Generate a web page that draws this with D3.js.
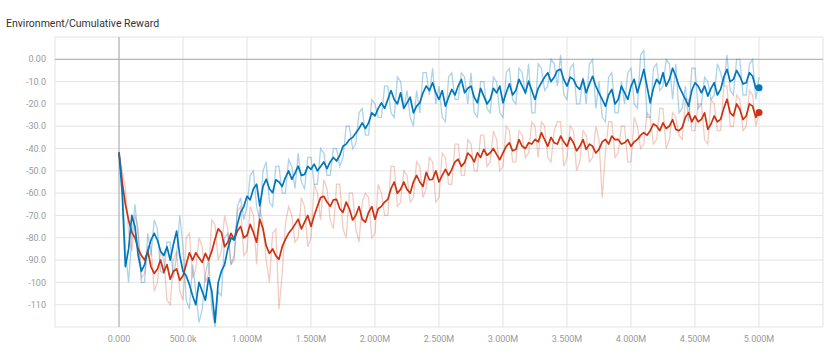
<!DOCTYPE html>
<html lang="en">
<head>
<meta charset="UTF-8">
<title>Environment/Cumulative Reward</title>
<script src="https://d3js.org/d3.v7.min.js"></script>
<style>
  body { margin: 0; background: #fff; font-family: Roboto, "Noto Sans", sans-serif; }
  .grid line { stroke: #e3e3e3; stroke-width: 1px; }
  .zero { stroke: #aaa; stroke-width: 1px; }
  .tick-label { font-size: 9px; fill: #9a9a9a; }
  .title { font-size: 10.5px; fill: #333; }
</style>
</head>
<body>
<div id="chart"></div>
<script>
// values every 50k steps, plus a second array for the half steps in between
const step = 50000;
const xTicks = [0, 500000, 1000000, 1500000, 2000000, 2500000, 3000000, 3500000, 4000000, 4500000, 5000000];
const yTicks = [0, -10, -20, -30, -40, -50, -60, -70, -80, -90, -100, -110];

// smoothed (dark) lines
const blueSmooth = [-41.7, -93, -70, -88, -92, -81, -81, -88, -90, -77, -95, -101, -110, -104, -98, -118, -95, -85, -81, -68.6,
  -61.4, -58, -65.7, -53.8, -59.8, -55, -53, -53.8, -47.9, -51.6, -49.3, -50, -46, -46, -45.6, -39, -36, -33, -28.5, -28.5,
  -25.4, -19.5, -18, -18, -15, -19.5, -24, -19.5, -12, -10.5, -18, -21, -13.5, -12, -15, -12, -19.5, -16.5, -18, -15,
  -19.5, -11, -14, -12, -9.8, -18, -10.5, -6, -8, -4.5, -12, -9, -13.5, -15, -7.6, -15, -21, -13.5, -18, -15,
  -12, -15, -4.5, -19.5, -9, -6, -9, -7.6, -15, -21, -10.5, -15, -16.5, -10.5, -13.5, -4.5, -9, -7.6, -10.5, -7.6, -12.8];
const blueSmoothHalf = [-60, -85, -75, -95, -86, -78, -86, -84, -83, -88, -97, -106, -100, -108, -104, -100, -92, -80, -74, -66,
  -63, -56, -57, -58, -54, -57, -50, -51, -52, -48, -47, -48, -49, -44, -43, -38, -35, -31, -31, -24,
  -22, -22, -14, -20, -22, -17, -21, -15, -14, -15, -14, -17, -16, -9, -13, -17, -13, -20, -13, -12,
  -15, -16, -9, -15, -14, -13, -8, -10, -5, -9, -8, -12, -9, -11, -12, -18, -16, -20, -12, -18,
  -9, -10, -12, -13, -11, -12, -4, -12, -18, -14, -12, -12, -13, -16, -8, -10, -5, -11, -6, -13];

const redSmooth = [-41.7, -65, -77.6, -85, -90, -93, -94, -95.5, -98.6, -94, -97, -86.7, -86.7, -91, -90, -80.7, -77.6, -82, -80.7, -74.9,
  -79, -77.6, -71.7, -83.6, -85, -89.7, -80.7, -76.2, -71.7, -73, -74.9, -65.9, -61.4, -65.9, -62.8, -68.6, -67, -70, -71.7, -68.6,
  -71.7, -65.9, -62.8, -55, -58.3, -58.3, -55, -55, -50.7, -53.8, -55, -49.3, -49.3, -44.8, -46.3, -43.4, -41.9, -40.4, -41.9, -42.6,
  -41.9, -37.4, -40.4, -39, -37.4, -35.9, -32.9, -39, -37.4, -34.4, -39, -37.4, -39, -40.4, -39, -40.4, -35.9, -34.4, -35.9, -37.4,
  -39, -35.9, -32.9, -32, -29.9, -28.5, -29.9, -31.4, -30.6, -23.9, -25.4, -26.9, -31.4, -25.4, -26.9, -17.9, -25.4, -22.4, -25.4, -21, -23.9];
const redSmoothHalf = [-55, -72, -80, -88, -86, -96, -90, -92, -95, -99, -92, -90, -89, -87, -86, -76, -84, -78, -77, -80,
  -74, -82, -76, -87, -88, -84, -78, -74, -76, -70, -70, -62, -64, -63, -67, -64, -72, -66, -73, -66,
  -67, -64, -58, -60, -55, -60, -52, -57, -54, -50, -52, -52, -46, -48, -42, -46, -44, -43, -40, -45,
  -39, -41, -36, -40, -38, -37, -36, -35, -38, -37, -35, -41, -36, -38, -42, -37, -38, -36, -38, -36,
  -37, -34, -34, -29, -32, -31, -27, -32, -26, -28, -28, -24, -29, -28, -22, -24, -20, -27, -20, -26];

// raw (light) lines
const blueRaw = [-42, -85, -80, -80, -100, -88, -76, -96, -82, -88, -84, -112, -104, -112, -90, -120, -106, -78, -88, -62,
  -66, -50, -72, -46, -66, -48, -60, -48, -42, -58, -44, -56, -42, -52, -40, -44, -30, -38, -22, -34,
  -20, -26, -12, -26, -10, -14, -30, -24, -6, -4, -12, -28, -6, -18, -8, -6, -26, -10, -24, -10,
  -26, -4, -20, -6, -2, -24, -4, -12, -2, 2, -18, -2, -20, -20, 0, -10, -28, -6, -24, -20,
  -4, -22, 4, -26, -2, -12, -2, -2, -22, -28, -4, -20, -10, -16, -6, 2, -16, 0, -16, 0, -8];
const blueRawHalf = [-55, -100, -65, -100, -78, -72, -95, -82, -98, -70, -108, -92, -118, -96, -112, -104, -80, -92, -66, -72,
  -52, -66, -50, -64, -48, -60, -45, -58, -55, -44, -56, -40, -52, -40, -48, -30, -40, -24, -34, -18,
  -26, -12, -24, -8, -22, -26, -14, -6, -16, -20, -26, -8, -18, -6, -20, -24, -10, -22, -8, -24,
  -6, -18, -4, -16, -24, -2, -14, 0, -12, -16, -4, -20, -8, -2, -22, -26, -8, -24, -10, -6,
  -20, 2, -26, -4, -14, 0, -18, -24, -12, -4, -22, -8, -18, -2, -12, -14, 0, -16, -2, -18];

const redRaw = [-42, -58, -86, -76, -96, -84, -100, -90, -110, -86, -108, -78, -94, -84, -96, -74, -86, -76, -90, -66,
  -86, -70, -66, -90, -78, -112, -74, -70, -80, -66, -80, -60, -54, -72, -56, -76, -60, -76, -64, -62,
  -78, -60, -70, -48, -64, -52, -62, -48, -58, -46, -62, -44, -56, -38, -52, -38, -50, -34, -46, -36,
  -48, -32, -46, -34, -42, -30, -28, -44, -32, -28, -44, -32, -46, -34, -44, -36, -42, -28, -42, -30,
  -46, -30, -38, -26, -36, -22, -36, -26, -36, -18, -32, -20, -38, -20, -32, -12, -30, -18, -30, -16, -24];
const redRawHalf = [-50, -78, -70, -98, -84, -104, -86, -108, -90, -104, -80, -98, -80, -100, -72, -90, -70, -92, -68, -88,
  -66, -92, -74, -100, -76, -96, -66, -82, -62, -84, -56, -72, -58, -76, -56, -80, -60, -82, -60, -80,
  -56, -70, -48, -66, -50, -64, -46, -62, -44, -64, -42, -56, -38, -52, -36, -50, -34, -48, -32, -50,
  -30, -46, -32, -44, -28, -44, -30, -46, -28, -48, -30, -50, -32, -46, -30, -62, -28, -44, -30, -46,
  -26, -40, -24, -38, -22, -40, -24, -34, -18, -32, -20, -36, -18, -32, -12, -30, -16, -32, -14, -30];

const colors = { blue: "#0077bb", red: "#cc3311" };

const W = 830, H = 360;
const x = d3.scaleLinear().domain([-500000, 5500000]).range([55, 823]);
const y = d3.scaleLinear().domain([-120, 10]).range([327, 37]);

const svg = d3.select("#chart").append("svg")
    .attr("width", W)
    .attr("height", H);

svg.append("text")
    .attr("class", "title")
    .attr("x", 6)
    .attr("y", 27)
    .text("Environment/Cumulative Reward");

// grid
const grid = svg.append("g").attr("class", "grid");
grid.selectAll(".vx")
    .data(d3.range(-500000, 5500001, 500000))
  .enter().append("line")
    .attr("x1", d => x(d)).attr("x2", d => x(d))
    .attr("y1", y.range()[1]).attr("y2", y.range()[0]);
grid.selectAll(".hy")
    .data(d3.range(-120, 11, 10))
  .enter().append("line")
    .attr("x1", x.range()[0]).attr("x2", x.range()[1])
    .attr("y1", d => y(d)).attr("y2", d => y(d));

svg.append("line").attr("class", "zero")
    .attr("x1", x(0)).attr("x2", x(0))
    .attr("y1", y.range()[1]).attr("y2", y.range()[0]);
svg.append("line").attr("class", "zero")
    .attr("x1", x.range()[0]).attr("x2", x.range()[1])
    .attr("y1", y(0)).attr("y2", y(0));

// tick labels
const locale = d3.formatLocale({ decimal: ".", thousands: ",", grouping: [3], currency: ["", ""], minus: "-" });
const fmtY = locale.format(".3r");
const fmtX = locale.format(".4s");

svg.selectAll(".ylab")
    .data(yTicks)
  .enter().append("text")
    .attr("class", "tick-label")
    .attr("x", 46)
    .attr("y", d => y(d))
    .attr("dy", "0.35em")
    .attr("text-anchor", "end")
    .text(d => fmtY(d));

svg.selectAll(".xlab")
    .data(xTicks)
  .enter().append("text")
    .attr("class", "tick-label")
    .attr("x", d => x(d))
    .attr("y", 342)
    .attr("text-anchor", "middle")
    .text(d => fmtX(d));

// series
const plot = svg.append("g");
const line = d3.line().x(d => x(d[0])).y(d => y(Math.max(d[1], -120)));

// merge the full-step and half-step arrays into one list of [step, value]
function merge(full, half) {
    const pts = [];
    full.forEach((v, i) => {
        pts.push([i * step, v]);
        if (i < half.length) pts.push([i * step + step / 2, half[i]]);
    });
    return pts;
}

[["red", redRaw, redRawHalf], ["blue", blueRaw, blueRawHalf]].forEach(([c, full, half]) => {
    plot.append("path")
        .datum(merge(full, half))
        .attr("fill", "none")
        .attr("stroke", colors[c])
        .attr("stroke-opacity", c === "blue" ? 0.32 : 0.25)
        .attr("stroke-width", 1.3)
        .attr("d", line);
});

[["red", redSmooth, redSmoothHalf], ["blue", blueSmooth, blueSmoothHalf]].forEach(([c, full, half]) => {
    const pts = merge(full, half);
    plot.append("path")
        .datum(pts)
        .attr("fill", "none")
        .attr("stroke", colors[c])
        .attr("stroke-width", 1.7)
        .attr("stroke-linejoin", "round")
        .attr("d", line);
    plot.append("circle")
        .attr("cx", x(pts[pts.length - 1][0]))
        .attr("cy", y(pts[pts.length - 1][1]))
        .attr("r", 3.5)
        .attr("fill", colors[c]);
});
</script>
</body>
</html>
